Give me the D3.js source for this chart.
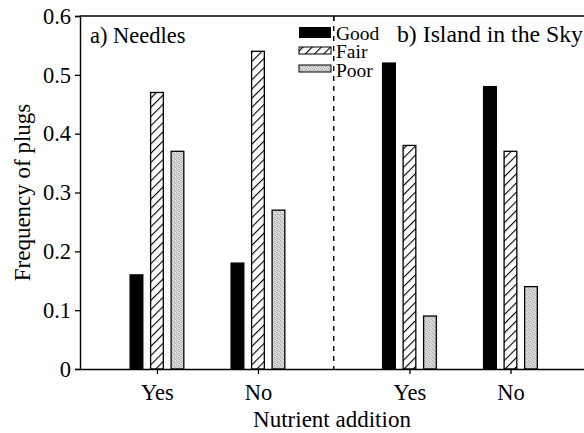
<!DOCTYPE html>
<html>
<head>
<meta charset="utf-8">
<script src="https://cdn.jsdelivr.net/npm/d3@7"></script>
<style>
  html, body { margin: 0; padding: 0; background: #fff; }
  svg { display: block; }
  svg text { font-family: "Liberation Serif", "Times New Roman", "DejaVu Serif", serif; fill: #000; }
</style>
</head>
<body>
<svg id="chart" width="584" height="433"></svg>
<script>
// Frequency of plugs by condition class, with and without nutrient addition
const sites = ["a) Needles", "b) Island in the Sky"];
const treatments = ["Yes", "No"];
const conditions = ["Good", "Fair", "Poor"];
// values[treatment][condition]
const needlesValues = [[0.16, 0.47, 0.37], [0.18, 0.54, 0.27]];
const islandValues  = [[0.52, 0.38, 0.09], [0.48, 0.37, 0.14]];
const yTicks = [0, 0.1, 0.2, 0.3, 0.4, 0.5, 0.6];

const siteValues = [needlesValues, islandValues];
const SERIF = "Liberation Serif, Times New Roman, DejaVu Serif, serif";

// Flatten into group records; each group sits at a slot position on the x scale
const groups = [];
siteValues.forEach((sv, si) => {
  sv.forEach((vals, ti) => {
    groups.push({ site: si, treatment: treatments[ti], slot: si * 2.5 + ti, values: vals });
  });
});

const svg = d3.select("#chart");
const plotL = 80, plotR = 584, plotT = 16, plotB = 369;

// slot scale: groups at 0,1 (Needles) and 2.5,3.5 (Island in the Sky)
const x = d3.scaleLinear().domain([-0.762, 4.228]).range([plotL, plotR]);
const y = d3.scaleLinear().domain([0, 0.6]).range([plotB, plotT]);

const barStep = 0.203;   // offset between condition bars, in slot units
const barW = 0.126;      // bar width, in slot units

// Patterns
const defs = svg.append("defs");
const hatch = defs.append("pattern")
  .attr("id", "hatch").attr("patternUnits", "userSpaceOnUse")
  .attr("width", 6.5).attr("height", 6.5)
  .attr("patternTransform", "rotate(45)");
hatch.append("rect").attr("width", 6.5).attr("height", 6.5).attr("fill", "#fff");
hatch.append("line").attr("x1", 0).attr("y1", 0).attr("x2", 0).attr("y2", 6.5)
  .attr("stroke", "#000").attr("stroke-width", 2.2);

const stip = defs.append("pattern")
  .attr("id", "stipple").attr("patternUnits", "userSpaceOnUse")
  .attr("width", 4).attr("height", 4);
stip.append("rect").attr("width", 4).attr("height", 4).attr("fill", "#d6d6d6");
[[0,0,"#a8a8a8"],[2,1,"#b4b4b4"],[1,2,"#9e9e9e"],[3,3,"#b0b0b0"],[3,0,"#e6e6e6"],[1,3,"#e2e2e2"]]
  .forEach(([px, py, c]) => stip.append("rect").attr("x", px).attr("y", py)
    .attr("width", 1).attr("height", 1).attr("fill", c));

const fills = { Good: "#000", Fair: "url(#hatch)", Poor: "url(#stipple)" };

// Bars
const gBars = svg.append("g");
groups.forEach(g => {
  g.values.forEach((v, ci) => {
    const cx = g.slot + (ci - 1) * barStep;
    gBars.append("rect")
      .attr("x", x(cx - barW / 2))
      .attr("width", x(cx + barW / 2) - x(cx - barW / 2))
      .attr("y", y(v))
      .attr("height", y(0) - y(v))
      .attr("fill", fills[conditions[ci]])
      .attr("stroke", "#000")
      .attr("stroke-width", 1.3);
  });
});

// Dashed panel divider
const divider = x(1.75);
svg.append("line")
  .attr("x1", divider).attr("x2", divider)
  .attr("y1", plotT).attr("y2", plotB)
  .attr("stroke", "#000").attr("stroke-width", 1.4)
  .attr("stroke-dasharray", "5,5");

// Top frame line
svg.append("line")
  .attr("x1", plotL).attr("x2", plotR).attr("y1", plotT).attr("y2", plotT)
  .attr("stroke", "#000").attr("stroke-width", 1.4);
svg.append("line")
  .attr("x1", divider).attr("x2", divider).attr("y1", plotT).attr("y2", plotT + 5)
  .attr("stroke", "#000").attr("stroke-width", 1.4);

// Y axis
const yAxis = svg.append("g")
  .attr("transform", `translate(${plotL},0)`)
  .call(d3.axisLeft(y).tickValues(yTicks)
    .tickFormat(d => d === 0 ? "0" : d3.format(".1f")(d))
    .tickSize(5).tickPadding(4));
yAxis.attr("font-family", SERIF).attr("font-size", 22.5);
yAxis.select(".domain").attr("stroke-width", 1.4);
yAxis.selectAll(".tick line").attr("stroke-width", 1.3);

// X axis
const xAxis = svg.append("g")
  .attr("transform", `translate(0,${plotB})`)
  .call(d3.axisBottom(x).tickValues(groups.map(g => g.slot))
    .tickFormat((d, i) => groups[i].treatment)
    .tickSize(5).tickSizeOuter(0));
xAxis.attr("font-family", SERIF).attr("font-size", 22.5);
xAxis.select(".domain").attr("stroke-width", 1.4);
xAxis.selectAll(".tick line").attr("stroke-width", 1.3);
xAxis.selectAll(".tick text").attr("dy", null).attr("y", 31);

// Axis titles
svg.append("text")
  .attr("x", 332).attr("y", 427)
  .attr("text-anchor", "middle").attr("font-size", 23)
  .text("Nutrient addition");
svg.append("text")
  .attr("transform", `translate(30,${(plotT + plotB) / 2}) rotate(-90)`)
  .attr("text-anchor", "middle").attr("font-size", 23)
  .text("Frequency of plugs");

// Panel titles
svg.append("text").attr("x", 90).attr("y", 43).attr("font-size", 22.5).text(sites[0]);
svg.append("text").attr("x", 397).attr("y", 42).attr("font-size", 22.5)
  .attr("textLength", 186).attr("lengthAdjust", "spacingAndGlyphs").text(sites[1]);

// Legend
const legend = svg.append("g");
const swatchY = [27, 47, 65];
const swatchH = [11, 7, 7];
conditions.forEach((c, i) => {
  legend.append("rect")
    .attr("x", 299).attr("y", swatchY[i])
    .attr("width", 32).attr("height", swatchH[i])
    .attr("fill", fills[c]).attr("stroke", "#000").attr("stroke-width", c === "Good" ? 0 : 1);
  legend.append("text")
    .attr("x", 336).attr("y", 40 + i * 18.3)
    .attr("font-size", 19.5)
    .text(c);
});
</script>
</body>
</html>
